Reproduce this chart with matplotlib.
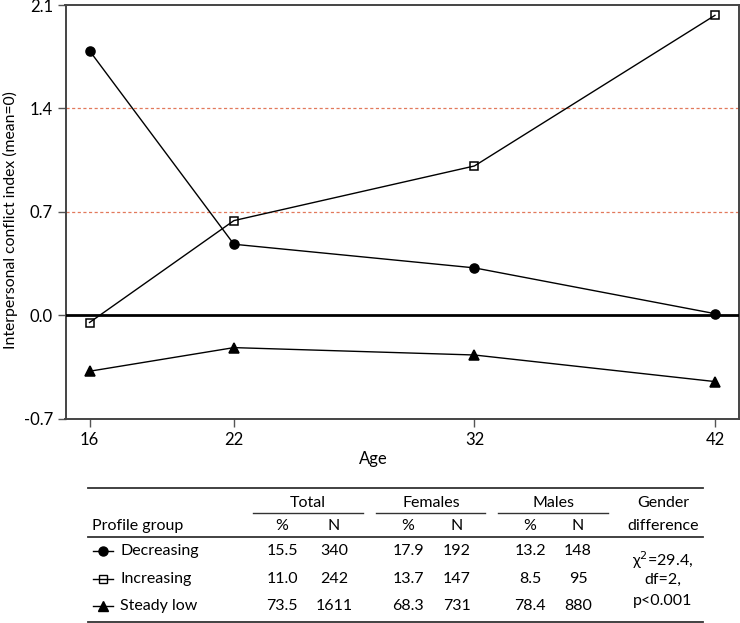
import matplotlib

matplotlib.use("Agg")
import matplotlib.pyplot as plt
from matplotlib.lines import Line2D

plt.rcParams["font.family"] = ["Lato", "DejaVu Sans"]

# chart data
ages = [16, 22, 32, 42]
decreasing = [1.79, 0.48, 0.32, 0.01]
increasing = [-0.05, 0.64, 1.01, 2.03]
steady_low = [-0.38, -0.22, -0.27, -0.45]
y_ticks = [-0.7, 0.0, 0.7, 1.4, 2.1]
ref_lines = [0.7, 1.4]

# table data
groups = ["Decreasing", "Increasing", "Steady low"]
group_markers = ["o", "s", "^"]
group_fill = ["black", "none", "black"]
total_pct = ["15.5", "11.0", "73.5"]
total_n = ["340", "242", "1611"]
fem_pct = ["17.9", "13.7", "68.3"]
fem_n = ["192", "147", "731"]
male_pct = ["13.2", "8.5", "78.4"]
male_n = ["148", "95", "880"]
gender_diff = ["χ$^2$=29.4,", "df=2,", "p<0.001"]

W, H = 740, 623
fig = plt.figure(figsize=(W / 100, H / 100), dpi=100)

# main plot, placed in pixel units
left, right, top, bottom = 65.5, 739, 5, 418.5
ax = fig.add_axes([left / W, 1 - bottom / H, (right - left) / W, (bottom - top) / H])

series = [decreasing, increasing, steady_low]
sizes = [6.5, 5.5, 6.5]
for vals, mk, fc, ms in zip(series, group_markers, group_fill, sizes):
    ax.plot(ages, vals, color="black", lw=1.0, marker=mk, ms=ms,
            mfc=fc, mec="black", mew=1.1, zorder=4)

for y in ref_lines:
    ax.axhline(y, color="#e2795c", lw=0.9, ls=(0, (2.5, 2)), zorder=1)
ax.axhline(0, color="black", lw=2.0, zorder=3)

ax.set_xlim(15, 43)
ax.set_ylim(-0.7, 2.1)
ax.set_xticks(ages)
ax.set_yticks(y_ticks)
ax.set_yticklabels([f"{v:.1f}" for v in y_ticks])
ax.tick_params(labelsize=12, length=6, width=1.0, color="#555555", pad=3)
ax.tick_params(axis="x", pad=4)
for sp in ax.spines.values():
    sp.set_color("#444444")
    sp.set_linewidth(1.4)
ax.set_xlabel("Age", fontsize=12)
ax.xaxis.set_label_coords(0.457, -0.078)
ax.set_ylabel("Interpersonal conflict index (mean=0)", fontsize=11.3)
ax.yaxis.set_label_coords(-0.071, 0.48)

# table drawn on an overlay in pixel coordinates
tab = fig.add_axes([0, 0, 1, 1], zorder=-1)
tab.set_xlim(0, W)
tab.set_ylim(H, 0)
tab.axis("off")

fs = 11.5
line_kw = dict(color="#333333", lw=1.3)
tab.plot([88, 703], [488, 488], **line_kw)
tab.plot([88, 703], [537, 537], **line_kw)
tab.plot([88, 703], [621.5, 621.5], **line_kw)
for x0, x1 in [(253, 363), (376, 485), (498, 608)]:
    tab.plot([x0, x1], [513, 513], color="#333333", lw=1.0)

cols = [282, 334, 408, 457, 530, 578]
head_kw = dict(fontsize=fs, ha="center", va="center")
for x, name in zip([308, 431, 553], ["Total", "Females", "Males"]):
    tab.text(x, 503, name, **head_kw)
for x, name in zip(cols, ["%", "N", "%", "N", "%", "N"]):
    tab.text(x, 526, name, **head_kw)
tab.text(92, 526, "Profile group", fontsize=fs, ha="left", va="center")
tab.text(663, 503, "Gender", **head_kw)
tab.text(663, 526, "difference", **head_kw)

row_y = [551, 579, 606]
for i, y in enumerate(row_y):
    tab.add_line(Line2D([93, 113], [y, y], color="black", lw=1.0))
    tab.plot([103], [y], marker=group_markers[i], ms=sizes[i],
             mfc=group_fill[i], mec="black", mew=1.0, color="black")
    tab.text(120, y, groups[i], fontsize=fs, ha="left", va="center")
    row = [total_pct[i], total_n[i], fem_pct[i], fem_n[i], male_pct[i], male_n[i]]
    for x, v in zip(cols, row):
        tab.text(x, y, v, **head_kw)

for y, s in zip([560, 580, 601], gender_diff):
    tab.text(663, y, s, **head_kw)

fig.savefig("out.png", dpi=100)
